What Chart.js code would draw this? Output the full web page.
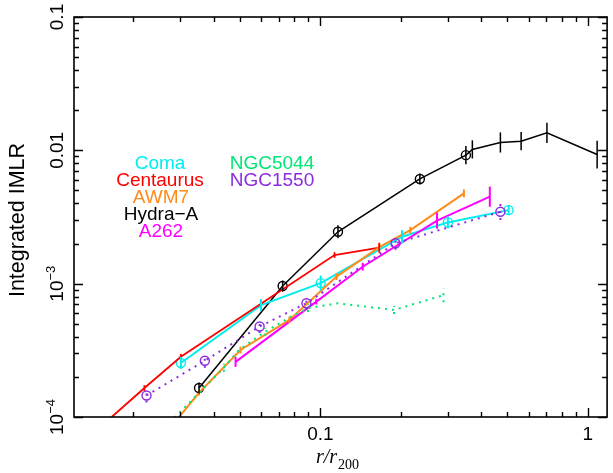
<!DOCTYPE html>
<html>
<head>
<meta charset="utf-8">
<script src="https://cdn.jsdelivr.net/npm/chart.js@4.4.0/dist/chart.umd.min.js"></script>
<style>
  html, body { margin: 0; padding: 0; background: #fff; }
  canvas { display: block; }
</style>
</head>
<body>
<canvas id="myChart" width="613" height="473"></canvas>
<script>
// integrated IMLR against r/r200, one pair of arrays per system
// err = relative error, bar spans v/(1+err) .. v*(1+err)
var hydraR   = [0.0352, 0.0723, 0.1164, 0.2355, 0.350, 0.370, 0.471, 0.563, 0.703, 1.083];
var hydraV   = [1.65e-4, 9.6e-4, 2.45e-3, 6.1e-3, 9.2e-3, 1.016e-2, 1.146e-2, 1.172e-2, 1.352e-2, 9.3e-3];
var hydraErr = [0.10, 0.10, 0.12, 0.10, 0.17, 0.17, 0.19, 0.17, 0.19, 0.27];

var comaR   = [0.0301, 0.060, 0.1003, 0.202, 0.2997, 0.5055];
var comaV   = [2.54e-4, 6.9e-4, 1.01e-3, 2.25e-3, 2.88e-3, 3.56e-3];
var comaErr = [0.11, 0.11, 0.14, 0.12, 0.11, 0.09];

var centR   = [0.0166, 0.0220, 0.0301, 0.1130, 0.166];
var centV   = [1.0e-4, 1.65e-4, 2.83e-4, 1.64e-3, 1.86e-3];
var centErr = [0, 0.05, 0.05, 0.05, 0.09];

var awmR   = [0.0285, 0.0352, 0.0503, 0.0766, 0.115, 0.166, 0.217, 0.344];
var awmV   = [9.1e-5, 1.52e-4, 3.18e-4, 5.35e-4, 1.13e-3, 1.88e-3, 2.52e-3, 4.75e-3];
var awmErr = [0, 0.05, 0.06, 0.06, 0.06, 0.06, 0.06, 0.07];

var a262R   = [0.0482, 0.0966, 0.144, 0.273, 0.430];
var a262V   = [2.59e-4, 7.33e-4, 1.34e-3, 2.97e-3, 4.49e-3];
var a262Err = [0.09, 0.05, 0.07, 0.15, 0.19];

var n5044R   = [0.0285, 0.0436, 0.0496, 0.0622, 0.0759, 0.090, 0.1163, 0.1887, 0.2888];
var n5044V   = [9.9e-5, 2.34e-4, 3.18e-4, 4.36e-4, 5.51e-4, 6.55e-4, 7.13e-4, 6.35e-4, 8.2e-4];
var n5044Err = [0, 0.07, 0, 0.07, 0, 0.07, 0, 0.07, 0.13];

var n1550R   = [0.0224, 0.0370, 0.0593, 0.0887, 0.191, 0.471];
var n1550V   = [1.45e-4, 2.64e-4, 4.77e-4, 7.13e-4, 2.01e-3, 3.46e-3];
var n1550Err = [0.13, 0.13, 0.12, 0.12, 0.12, 0.15];

// axis ticks
var xMajorTicks = [0.1, 1];
var xTickLabels = ['0.1', '1'];
var yMajorTicks = [1e-4, 1e-3, 1e-2, 0.1];
var yTickLabels = [['10', '\u22124'], ['10', '\u22123'], ['0.01', ''], ['0.1', '']];
var xMinorTicks = [];
var yMinorTicks = [];
[0.01, 0.1].forEach(function (d) {
  for (var k = 2; k <= 9; k++) xMinorTicks.push(k * d);
});
[1e-4, 1e-3, 1e-2].forEach(function (d) {
  for (var k = 2; k <= 9; k++) yMinorTicks.push(k * d);
});

// circled: indices of points drawn with an open circle
var series = [
  { label: 'NGC5044',  r: n5044R, v: n5044V, err: n5044Err, color: '#00e676', width: 2,   dash: [2, 5], circled: [] },
  { label: 'NGC1550',  r: n1550R, v: n1550V, err: n1550Err, color: '#8a2be2', width: 2,   dash: [2, 5], circled: [0, 1, 2, 3, 4, 5] },
  { label: 'A262',     r: a262R,  v: a262V,  err: a262Err,  color: '#ff00ff', width: 2,   dash: [],     circled: [] },
  { label: 'AWM7',     r: awmR,   v: awmV,   err: awmErr,   color: '#ff8c1a', width: 2,   dash: [],     circled: [] },
  { label: 'Centaurus',r: centR,  v: centV,  err: centErr,  color: '#ff0000', width: 1.8, dash: [],     circled: [] },
  { label: 'Coma',     r: comaR,  v: comaV,  err: comaErr,  color: '#00eeee', width: 2,   dash: [],     circled: [0, 2, 4, 5] },
  { label: 'Hydra\u2212A', r: hydraR, v: hydraV, err: hydraErr, color: '#000000', width: 1.5, dash: [], circled: [0, 1, 2, 3, 4] }
];

var legendItems = [
  { text: 'Coma',        color: '#00eeee', x: 160, y: 169 },
  { text: 'Centaurus',   color: '#ff0000', x: 160, y: 186 },
  { text: 'AWM7',        color: '#ff8c1a', x: 161, y: 203 },
  { text: 'Hydra\u2212A',color: '#000000', x: 161, y: 220 },
  { text: 'A262',        color: '#ff00ff', x: 161, y: 237 },
  { text: 'NGC5044',     color: '#00e676', x: 272, y: 169 },
  { text: 'NGC1550',     color: '#8a2be2', x: 272, y: 186 }
];

var SANS = '"Liberation Sans", Arial, sans-serif';

var decorations = {
  id: 'decorations',
  afterDatasetsDraw: function (chart) {
    var ctx = chart.ctx, xs = chart.scales.x, ys = chart.scales.y, a = chart.chartArea;
    ctx.save();
    ctx.beginPath();
    ctx.rect(a.left, a.top, a.right - a.left, a.bottom - a.top);
    ctx.clip();
    series.forEach(function (s) {
      ctx.strokeStyle = s.color;
      ctx.lineWidth = s.width;
      ctx.setLineDash(s.dash);
      for (var i = 0; i < s.r.length; i++) {
        if (!s.err[i]) continue;
        var px = xs.getPixelForValue(s.r[i]);
        ctx.beginPath();
        ctx.moveTo(px, ys.getPixelForValue(s.v[i] / (1 + s.err[i])));
        ctx.lineTo(px, ys.getPixelForValue(s.v[i] * (1 + s.err[i])));
        ctx.stroke();
      }
    });
    ctx.restore();
  },
  afterDraw: function (chart) {
    var ctx = chart.ctx, xs = chart.scales.x, ys = chart.scales.y, a = chart.chartArea;
    ctx.save();
    ctx.strokeStyle = '#000';
    ctx.lineWidth = 1.6;
    ctx.strokeRect(a.left, a.top, a.right - a.left, a.bottom - a.top);

    function xTick(v, len) {
      var p = Math.round(xs.getPixelForValue(v)) + 0.5;
      ctx.beginPath();
      ctx.moveTo(p, a.bottom); ctx.lineTo(p, a.bottom - len);
      ctx.moveTo(p, a.top); ctx.lineTo(p, a.top + len);
      ctx.stroke();
    }
    function yTick(v, len) {
      var p = Math.round(ys.getPixelForValue(v)) + 0.5;
      ctx.beginPath();
      ctx.moveTo(a.left, p); ctx.lineTo(a.left + len, p);
      ctx.moveTo(a.right, p); ctx.lineTo(a.right - len, p);
      ctx.stroke();
    }
    ctx.lineWidth = 1.4;
    xMinorTicks.forEach(function (v) { xTick(v, 5); });
    xMajorTicks.forEach(function (v) { xTick(v, 9); });
    yMinorTicks.forEach(function (v) { yTick(v, 5); });
    yMajorTicks.forEach(function (v) { yTick(v, 9); });

    // tick labels
    ctx.fillStyle = '#000';
    ctx.font = '19px ' + SANS;
    ctx.textAlign = 'center';
    ctx.textBaseline = 'alphabetic';
    xMajorTicks.forEach(function (v, i) {
      ctx.fillText(xTickLabels[i], xs.getPixelForValue(v), 440);
    });

    yMajorTicks.forEach(function (v, i) {
      var base = yTickLabels[i][0], sup = yTickLabels[i][1];
      ctx.save();
      ctx.translate(63, ys.getPixelForValue(v));
      ctx.rotate(-Math.PI / 2);
      ctx.textAlign = 'left';
      ctx.font = '19px ' + SANS;
      var wb = ctx.measureText(base).width;
      ctx.font = '13px ' + SANS;
      var ws = sup ? ctx.measureText(sup).width : 0;
      var x0 = -(wb + ws) / 2;
      ctx.font = '19px ' + SANS;
      ctx.fillText(base, x0, 0);
      if (sup) {
        ctx.font = '13px ' + SANS;
        ctx.fillText(sup, x0 + wb, -8);
      }
      ctx.restore();
    });

    // axis titles
    ctx.save();
    ctx.translate(24, 220);
    ctx.rotate(-Math.PI / 2);
    ctx.textAlign = 'center';
    ctx.font = '21.5px ' + SANS;
    ctx.fillText('Integrated IMLR', 0, 0);
    ctx.restore();

    ctx.textAlign = 'left';
    ctx.font = 'italic 20px "Liberation Serif", "Times New Roman", serif';
    ctx.fillText('r/r', 316, 463);
    var wr = ctx.measureText('r/r').width;
    ctx.font = '14px "Liberation Serif", "Times New Roman", serif';
    ctx.fillText('200', 316 + wr + 1, 469);

    // system names
    ctx.textAlign = 'center';
    ctx.font = '19px ' + SANS;
    legendItems.forEach(function (it) {
      ctx.fillStyle = it.color;
      ctx.fillText(it.text, it.x, it.y);
    });
    ctx.restore();
  }
};

var ctx = document.getElementById('myChart').getContext('2d');
var myChart = new Chart(ctx, {
  type: 'scatter',
  data: {
    datasets: series.map(function (s) {
      return {
        label: s.label,
        data: s.r.map(function (r, i) { return { x: r, y: s.v[i] }; }),
        showLine: true,
        borderColor: s.color,
        borderWidth: s.width,
        borderDash: s.dash,
        backgroundColor: 'rgba(0,0,0,0)',
        pointRadius: function (c) { return s.circled.indexOf(c.dataIndex) >= 0 ? 4.5 : 0; },
        pointBorderWidth: 1.4,
        pointBorderColor: s.color,
        pointBackgroundColor: 'rgba(0,0,0,0)',
        tension: 0
      };
    })
  },
  options: {
    responsive: false,
    animation: false,
    layout: { padding: { left: 74, right: 1, top: 17, bottom: 56 } },
    plugins: {
      legend: { display: false },
      tooltip: { enabled: false }
    },
    scales: {
      x: { type: 'logarithmic', min: 0.012, max: 1.18, display: false },
      y: { type: 'logarithmic', min: 1e-4, max: 0.1, display: false }
    }
  },
  plugins: [decorations]
});
</script>
</body>
</html>
